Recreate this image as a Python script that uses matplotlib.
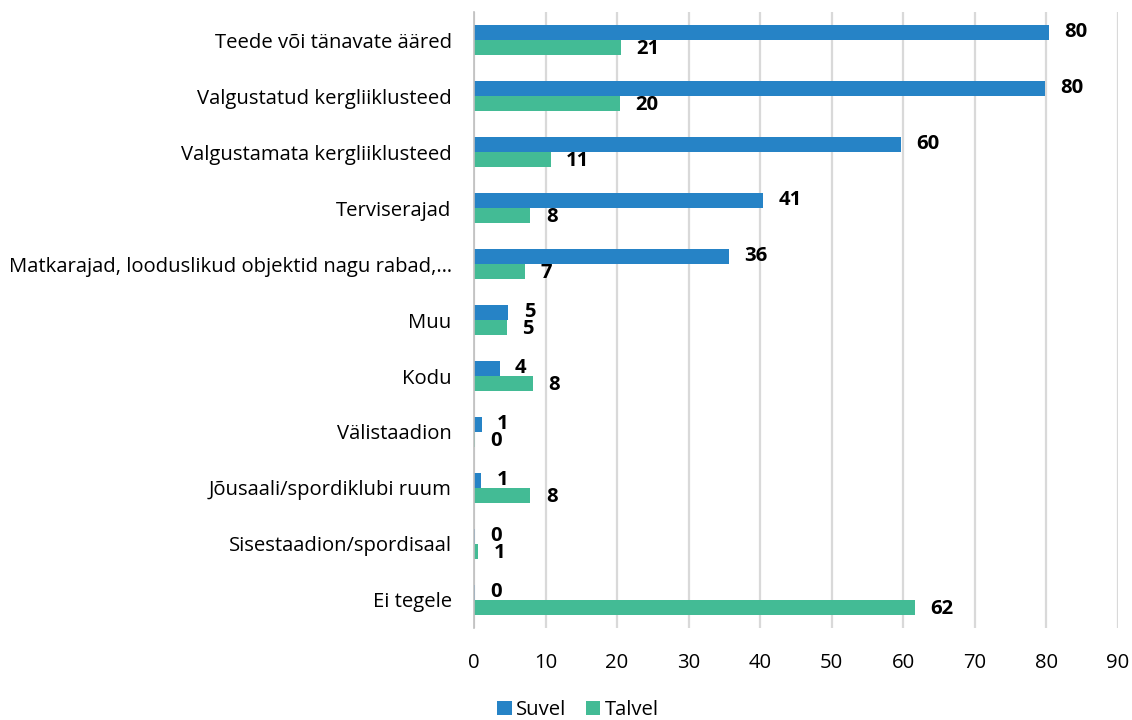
import matplotlib
matplotlib.use("Agg")
import matplotlib.pyplot as plt
import numpy as np

categories = [
    "Teede või tänavate ääred",
    "Valgustatud kergliiklusteed",
    "Valgustamata kergliiklusteed",
    "Terviserajad",
    "Matkarajad, looduslikud objektid nagu rabad,…",
    "Muu",
    "Kodu",
    "Välistaadion",
    "Jõusaali/spordiklubi ruum",
    "Sisestaadion/spordisaal",
    "Ei tegele",
]
suvel = [80.3, 79.8, 59.7, 40.4, 35.6, 4.8, 3.6, 1.1, 1.0, 0.2, 0.2]
talvel = [20.6, 20.4, 10.7, 7.9, 7.1, 4.6, 8.2, 0.1, 7.9, 0.6, 61.7]
suvel_labels = ["80", "80", "60", "41", "36", "5", "4", "1", "1", "0", "0"]
talvel_labels = ["21", "20", "11", "8", "7", "5", "8", "0", "8", "1", "62"]
xticks = [0, 10, 20, 30, 40, 50, 60, 70, 80, 90]
series_names = ["Suvel", "Talvel"]

BLUE = "#2683C6"
GREEN = "#43BB95"
FONT = "Open Sans"
FS = 14.6

fig = plt.figure(figsize=(11.32, 7.2), dpi=100)
ax = fig.add_axes([0.4187, 0.128, 0.5689, 0.855])

n = len(categories)
y = np.arange(n)
h = 0.27
b1 = ax.barh(y - h / 2, suvel, height=h, color=BLUE, label=series_names[0], zorder=3)
b2 = ax.barh(y + h / 2, talvel, height=h, color=GREEN, label=series_names[1], zorder=3)

for bars, labels, dy in ((b1, suvel_labels, 0.5), (b2, talvel_labels, -1.0)):
    for rect, lab in zip(bars, labels):
        ax.annotate(lab, (rect.get_width(), rect.get_y() + rect.get_height() / 2),
                    xytext=(11, dy), textcoords="offset points", ha="left", va="center",
                    fontsize=FS, fontweight="bold", family=FONT, zorder=5)

ax.set_xlim(0, 90)
ax.set_ylim(n - 0.5, -0.5)
ax.set_xticks(xticks)
ax.set_xticklabels([str(v) for v in xticks], family=FONT, fontsize=FS)
ax.set_yticks(y)
ax.set_yticklabels(categories, family=FONT, fontsize=FS)
ax.tick_params(axis="both", length=0)
ax.tick_params(axis="x", pad=18)
ax.tick_params(axis="y", pad=16)
ax.grid(axis="x", color="#D9D9D9", linewidth=1.6, zorder=0)
for s in ["top", "right", "bottom"]:
    ax.spines[s].set_visible(False)
ax.spines["left"].set_color("#BFBFBF")
ax.spines["left"].set_linewidth(1.2)
ax.spines["left"].set_zorder(4)

fig.legend(handles=[b1, b2], labels=series_names, loc="center",
           bbox_to_anchor=(578 / 1132, 1 - 710 / 720), ncol=2, frameon=False,
           prop={"family": FONT, "size": FS}, handlelength=0.7, handleheight=0.7,
           handletextpad=0.2, columnspacing=1.0)

fig.savefig("out.png", dpi=100)
